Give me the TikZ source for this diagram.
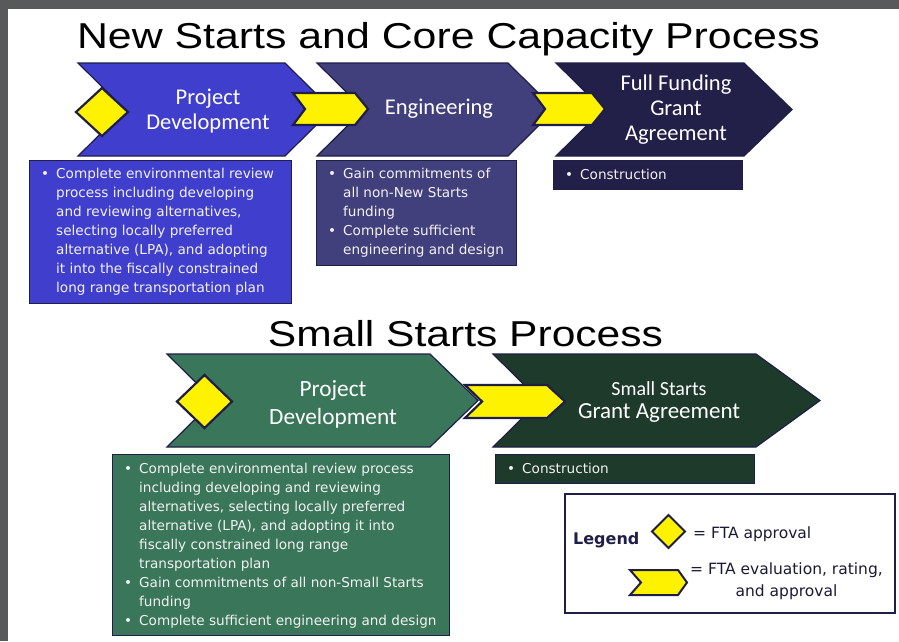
\documentclass[tikz,border=0pt]{standalone}
\usepackage{fontspec}
\usepackage{graphicx}
\newfontfamily\arialf{Liberation Sans}
\newfontfamily\calf{Carlito}
\newfontfamily\verf{DejaVu Sans}
\definecolor{cblue}{RGB}{64,62,204}
\definecolor{cslate}{RGB}{66,63,125}
\definecolor{cnavy}{RGB}{34,31,72}
\definecolor{cgreen}{RGB}{58,118,90}
\definecolor{cdkgreen}{RGB}{30,58,42}
\definecolor{outl}{RGB}{30,30,70}
\definecolor{gborder}{RGB}{88,89,91}
\definecolor{btxt}{RGB}{242,242,242}
\definecolor{legtxt}{RGB}{26,26,52}
\newcommand{\bu}{\makebox[17pt][l]{\hspace{2pt}•}}
\newcommand{\ind}{\hspace*{17pt}}
\begin{document}
\begin{tikzpicture}[x=1pt,y=-1pt,
  chev/.style={draw=outl,line width=1.2pt,line join=miter},
  yel/.style={fill=yellow,draw=outl,line width=2.2pt,line join=miter},
  box/.style={draw=outl,line width=0.7pt,anchor=north west,inner sep=0pt},
  btext/.style={anchor=west,inner sep=0pt,align=left,text=btxt,font=\verf\fontsize{13.6}{19}\selectfont},
  ctext/.style={text=white,align=center,inner sep=0pt,font=\calf\fontsize{22.5}{25.5}\selectfont},
  ttext/.style={anchor=base,inner sep=0pt,font=\arialf\fontsize{36}{40}\selectfont},
  ltext/.style={inner sep=0pt,text=legtxt,font=\verf\fontsize{15.5}{22}\selectfont}]
\useasboundingbox (0,0) rectangle (899,641);
\fill[gborder] (0,0) rectangle (899,641);
\fill[white] (8,9) rectangle (899,641);

% titles
\node[ttext] (t1) at (448.5,48) {\resizebox{743pt}{\height}{New Starts and Core Capacity Process}};
\node[ttext] (t2) at (465.5,346) {\resizebox{395pt}{\height}{Small Starts Process}};

% top chevrons
\draw[chev,fill=cblue] (78,63) -- (285,63) -- (332,109.5) -- (285,156) -- (78,156) -- (125,109.5) -- cycle;
\draw[chev,fill=cslate] (317,63) -- (508,63) -- (555,109.5) -- (508,156) -- (317,156) -- (364,109.5) -- cycle;
\draw[chev,fill=cnavy] (556,63) -- (744,63) -- (792,109.5) -- (744,156) -- (556,156) -- (603,109.5) -- cycle;
\draw[yel] (293,93) -- (355,93) -- (368,109) -- (355,125) -- (293,125) -- (305,109) -- cycle;
\draw[yel] (533,93) -- (592,93) -- (605,109) -- (592,125) -- (533,125) -- (545,109) -- cycle;
\draw[yel] (76,112) -- (102,88) -- (128,112) -- (102,136) -- cycle;

\node[ctext] (p1) at (208,111) {Project\\Development};
\node[ctext] (e1) at (439,109) {Engineering};
\node[ctext,font=\calf\fontsize{22.5}{25}\selectfont] (f1) at (676,110) {Full Funding\\Grant\\Agreement};

% top boxes
\node[box,fill=cblue,minimum width=262pt,minimum height=143pt] (b1) at (29,160) {};
\node[btext] (b1t) at ([xshift=10pt]b1.west) {\bu Complete environmental review\\
\ind process including developing\\
\ind and reviewing alternatives,\\
\ind selecting locally preferred\\
\ind alternative (LPA), and adopting\\
\ind it into the fiscally constrained\\
\ind long range transportation plan};
\node[box,fill=cslate,minimum width=200pt,minimum height=105pt] (b2) at (316,160) {};
\node[btext] (b2t) at ([xshift=10pt]b2.west) {\bu Gain commitments of\\
\ind all non-New Starts\\
\ind funding\\
\bu Complete sufficient\\
\ind engineering and design};
\node[box,fill=cnavy,minimum width=189pt,minimum height=29pt] (b3) at (553,160) {};
\node[btext] (b3t) at ([xshift=10pt]b3.west) {\bu Construction};

% bottom chevrons
\draw[chev,fill=cgreen] (167,354) -- (430,354) -- (478,400.5) -- (430,447) -- (167,447) -- (214,400.5) -- cycle;
\draw[chev,fill=cdkgreen] (493,354) -- (756,354) -- (820,400.5) -- (756,447) -- (493,447) -- (540,400.5) -- cycle;
\draw[yel] (465,385) -- (547,385) -- (565,401.5) -- (547,418) -- (465,418) -- (482,401.5) -- cycle;
\draw[yel] (177,401.5) -- (204.5,375) -- (232,401.5) -- (204.5,428) -- cycle;

\node[ctext,font=\calf\fontsize{23.3}{28}\selectfont] (p2) at (333,404) {Project\\Development};
\node[ctext,font=\calf\fontsize{23}{23}\selectfont] (s2) at (659,402) {{\fontsize{20}{23}\selectfont Small Starts}\\Grant Agreement};

% bottom boxes
\node[box,fill=cgreen,minimum width=337pt,minimum height=181pt] (b4) at (112,454) {};
\node[btext] (b4t) at ([xshift=10pt,yshift=-1pt]b4.west) {\bu Complete environmental review process\\
\ind including developing and reviewing\\
\ind alternatives, selecting locally preferred\\
\ind alternative (LPA), and adopting it into\\
\ind fiscally constrained long range\\
\ind transportation plan\\
\bu Gain commitments of all non-Small Starts\\
\ind funding\\
\bu Complete sufficient engineering and design};
\node[box,fill=cdkgreen,minimum width=259pt,minimum height=29pt] (b5) at (495,454) {};
\node[btext] (b5t) at ([xshift=10pt]b5.west) {\bu Construction};

% legend
\node[draw=outl,line width=2pt,fill=white,anchor=north west,inner sep=0pt,minimum width=330pt,minimum height=119pt] (lg) at (564,493) {};
\node[ltext,anchor=base west,font=\verf\bfseries\fontsize{16}{20}\selectfont,text=outl] (lgt) at (573,544) {Legend};
\draw[yel,line width=2pt] (652,531.5) -- (668.5,515) -- (685,531.5) -- (668.5,548) -- cycle;
\node[ltext,anchor=base west] (lg1) at (693,538) {= FTA approval};
\draw[yel,line width=2pt] (630,570) -- (678,570) -- (687,582.5) -- (678,595) -- (630,595) -- (641,582.5) -- cycle;
\node[ltext,align=center,anchor=north] (lg2) at (786.5,563) {= FTA evaluation, rating,\\and approval};
\end{tikzpicture}
\end{document}
